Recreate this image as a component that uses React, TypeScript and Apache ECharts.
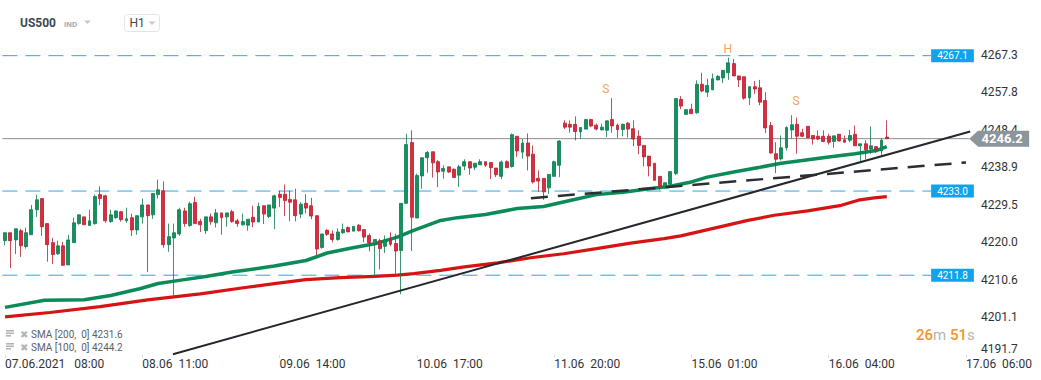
import React, { useEffect, useRef } from "react";
import * as echarts from "echarts";

// ---- Candles (H1), index 0 = 07.06.2021 08:00 ----
const openP = [
  4220.5, 4222.5, 4220.7, 4223.0, 4219.0, 4222.0, 4228.3, 4231.1, 4224.8, 4220.0,
  4217.2, 4219.2, 4214.4, 4220.0, 4224.8, 4226.5, 4224.3, 4224.8, 4232.1, 4231.8,
  4225.3, 4226.3, 4227.8, 4225.5, 4226.3, 4223.2, 4226.5, 4229.5, 4227.0, 4232.1,
  4233.1, 4219.5, 4221.2, 4222.2, 4228.0, 4224.3, 4230.1, 4225.3, 4223.0, 4226.5,
  4225.0, 4227.5, 4226.5, 4227.8, 4225.5, 4224.5, 4224.4, 4226.4, 4225.2, 4229.3,
  4226.6, 4228.7, 4232.2, 4232.2, 4230.9, 4230.8, 4227.2, 4229.9, 4229.3, 4226.8,
  4218.8, 4223.1, 4222.2, 4220.8, 4222.5, 4223.8, 4222.9, 4224.4, 4223.3, 4221.8,
  4219.6, 4220.5, 4219.1, 4220.7, 4219.8, 4218.0, 4229.9, 4245.2, 4226.2, 4236.8,
  4241.4, 4242.9, 4240.4, 4238.0, 4239.1, 4238.5, 4237.0, 4239.3, 4240.4, 4239.0,
  4239.6, 4240.4, 4240.2, 4238.8, 4236.7, 4240.4, 4239.2, 4246.8, 4242.8, 4245.1,
  4242.3, 4236.2, 4236.2, 4233.8, 4236.7, 4239.5, 4250.1, 4249.8, 4249.8, 4247.9,
  4248.6, 4251.0, 4249.6, 4248.4, 4248.3, 4251.0, 4249.6, 4248.5, 4250.1, 4248.7,
  4246.8, 4244.5, 4241.8, 4240.0, 4236.7, 4234.0, 4234.7, 4237.4, 4256.1, 4252.3,
  4253.6, 4252.7, 4259.9, 4257.9, 4258.5, 4261.0, 4261.5, 4262.8, 4265.1, 4262.0,
  4261.8, 4256.5, 4259.3, 4259.0, 4255.8, 4249.5, 4242.4, 4241.1, 4243.9, 4248.4,
  4249.8, 4247.7, 4249.3, 4247.0, 4246.8, 4246.8, 4246.8, 4245.5, 4247.3, 4245.9,
  4245.8, 4247.3, 4244.4, 4244.9, 4243.6, 4244.2, 4243.1, 4246.6,
];
const closeP = [
  4222.5, 4220.5, 4223.5, 4219.2, 4222.5, 4228.3, 4230.8, 4224.0, 4219.5, 4217.0,
  4219.2, 4214.3, 4220.7, 4225.0, 4227.0, 4224.5, 4225.5, 4231.6, 4231.1, 4225.5,
  4227.0, 4228.0, 4225.8, 4226.0, 4223.2, 4226.8, 4229.5, 4226.8, 4232.4, 4233.3,
  4219.5, 4221.5, 4222.5, 4228.3, 4224.8, 4229.8, 4224.8, 4224.5, 4226.5, 4225.3,
  4227.5, 4226.3, 4227.5, 4225.3, 4224.8, 4225.3, 4225.9, 4225.2, 4229.1, 4227.2,
  4229.5, 4231.8, 4231.4, 4230.6, 4230.2, 4226.8, 4229.7, 4228.7, 4226.7, 4218.4,
  4222.2, 4222.1, 4220.8, 4222.7, 4223.3, 4222.7, 4224.1, 4223.0, 4221.4, 4220.0,
  4220.8, 4218.5, 4220.7, 4219.6, 4217.9, 4229.9, 4244.7, 4226.4, 4236.9, 4241.4,
  4242.7, 4240.1, 4237.8, 4238.7, 4237.8, 4236.4, 4239.1, 4240.4, 4238.8, 4240.0,
  4240.4, 4239.5, 4238.9, 4237.1, 4240.3, 4238.9, 4247.2, 4243.1, 4245.1, 4241.8,
  4235.3, 4235.5, 4232.8, 4237.2, 4240.4, 4245.6, 4249.1, 4249.1, 4248.0, 4249.0,
  4251.0, 4249.4, 4248.6, 4249.1, 4250.7, 4249.4, 4248.5, 4249.8, 4248.6, 4246.1,
  4244.5, 4241.6, 4239.3, 4235.7, 4234.0, 4235.1, 4237.9, 4256.3, 4254.4, 4253.5,
  4252.5, 4259.9, 4258.2, 4259.6, 4261.3, 4261.9, 4263.4, 4265.3, 4262.0, 4261.0,
  4256.4, 4259.3, 4258.7, 4255.4, 4248.9, 4242.6, 4241.0, 4243.9, 4249.0, 4249.7,
  4246.8, 4246.8, 4246.4, 4246.1, 4246.1, 4245.5, 4245.3, 4246.9, 4245.6, 4245.3,
  4247.0, 4244.4, 4244.9, 4243.4, 4244.4, 4243.4, 4245.8, 4246.2,
];
const lowP = [
  4219.4, 4213.6, 4217.1, 4216.4, 4218.5, 4222.0, 4226.5, 4221.7, 4215.2, 4214.6,
  4216.9, 4214.2, 4214.4, 4220.0, 4224.5, 4224.5, 4224.3, 4224.5, 4229.5, 4225.0,
  4225.0, 4226.0, 4225.3, 4225.0, 4221.7, 4222.0, 4224.8, 4212.6, 4226.0, 4231.1,
  4218.7, 4217.7, 4206.2, 4221.7, 4224.0, 4224.0, 4224.8, 4222.7, 4222.2, 4224.5,
  4223.8, 4222.0, 4224.0, 4225.0, 4224.0, 4224.3, 4223.0, 4223.9, 4225.2, 4224.7,
  4226.2, 4223.4, 4229.0, 4226.7, 4225.4, 4225.4, 4226.2, 4227.4, 4225.9, 4216.9,
  4218.5, 4221.7, 4220.1, 4220.5, 4222.2, 4222.7, 4222.9, 4222.8, 4220.1, 4217.8,
  4211.6, 4213.3, 4217.4, 4219.1, 4211.7, 4207.0, 4229.9, 4217.9, 4226.2, 4233.6,
  4237.6, 4236.4, 4234.0, 4236.1, 4237.6, 4236.4, 4234.0, 4238.3, 4237.1, 4238.3,
  4239.6, 4239.1, 4236.0, 4236.5, 4236.0, 4238.9, 4238.9, 4241.6, 4241.2, 4238.2,
  4234.9, 4232.8, 4230.8, 4232.3, 4236.7, 4236.5, 4248.6, 4247.7, 4245.8, 4246.2,
  4248.5, 4249.1, 4248.3, 4248.3, 4246.6, 4247.7, 4246.4, 4246.8, 4246.5, 4244.3,
  4242.3, 4239.2, 4236.7, 4235.7, 4233.3, 4233.6, 4233.9, 4237.0, 4253.6, 4252.3,
  4252.5, 4252.5, 4257.9, 4256.7, 4258.4, 4260.9, 4260.2, 4261.0, 4262.0, 4259.2,
  4256.0, 4254.7, 4257.5, 4254.6, 4247.6, 4242.4, 4237.5, 4240.7, 4243.2, 4246.2,
  4242.4, 4246.6, 4246.4, 4244.7, 4245.8, 4245.3, 4244.7, 4243.9, 4245.5, 4245.2,
  4245.3, 4244.4, 4240.5, 4241.0, 4242.4, 4242.6, 4241.8, 4246.2,
];
const highP = [
  4222.5, 4222.5, 4223.5, 4223.5, 4223.8, 4229.5, 4232.1, 4231.1, 4224.8, 4221.2,
  4220.5, 4220.2, 4222.0, 4226.3, 4227.0, 4226.5, 4228.3, 4232.1, 4234.2, 4232.1,
  4228.3, 4228.0, 4228.0, 4228.8, 4227.3, 4226.8, 4231.1, 4229.5, 4232.4, 4235.9,
  4235.4, 4224.8, 4224.8, 4228.8, 4228.8, 4230.3, 4231.6, 4226.0, 4226.5, 4227.3,
  4228.5, 4227.5, 4227.5, 4228.3, 4226.0, 4227.3, 4225.9, 4229.3, 4230.1, 4229.3,
  4229.5, 4232.1, 4233.1, 4234.6, 4233.1, 4233.6, 4230.2, 4232.2, 4231.3, 4226.8,
  4222.2, 4223.4, 4223.1, 4223.6, 4224.8, 4224.1, 4224.1, 4224.7, 4223.3, 4222.3,
  4220.8, 4221.0, 4221.8, 4222.6, 4222.2, 4229.9, 4247.4, 4248.3, 4237.4, 4241.4,
  4243.1, 4242.9, 4240.8, 4239.5, 4239.1, 4238.7, 4239.6, 4241.0, 4240.4, 4240.0,
  4241.0, 4240.4, 4240.2, 4238.8, 4240.7, 4240.7, 4247.5, 4246.8, 4246.1, 4247.5,
  4244.5, 4238.2, 4236.2, 4237.2, 4240.7, 4245.8, 4250.8, 4250.8, 4251.8, 4249.0,
  4251.2, 4251.2, 4250.0, 4250.0, 4250.7, 4256.4, 4250.0, 4250.0, 4250.4, 4250.8,
  4248.3, 4244.5, 4241.8, 4240.0, 4236.7, 4235.1, 4237.9, 4256.3, 4256.9, 4253.5,
  4255.0, 4260.9, 4262.8, 4261.3, 4262.6, 4262.2, 4263.4, 4266.6, 4266.3, 4262.0,
  4261.8, 4259.3, 4260.7, 4261.0, 4257.9, 4250.4, 4245.3, 4247.0, 4249.3, 4252.1,
  4251.5, 4248.7, 4249.3, 4247.0, 4248.3, 4248.3, 4247.4, 4246.9, 4247.3, 4247.0,
  4248.4, 4249.5, 4244.9, 4245.8, 4249.3, 4244.2, 4246.4, 4250.8,
];

// ---- Moving averages (bar index, value) ----
const sma100X = [0, 7.5, 15, 20, 25.5, 29, 33, 38, 43, 51, 57, 61, 65.4, 70, 74.3, 77.4, 82.5, 85.7, 91, 97, 102, 107, 112, 117, 122, 126, 130, 133, 138, 143, 147, 151, 156, 161, 165, 167];
const sma100Y = [4203.7, 4205.5, 4205.6, 4206.7, 4208.4, 4209.7, 4210.5, 4211.5, 4212.6, 4214.1, 4215.5, 4217.4, 4218.6, 4219.7, 4221.4, 4223.1, 4225.6, 4226.3, 4227.1, 4228.6, 4229.1, 4230.6, 4232.1, 4232.7, 4233.6, 4234.2, 4235.3, 4236.5, 4237.8, 4239.0, 4240.0, 4240.7, 4241.6, 4242.4, 4243.2, 4244.2];
const sma200X = [0, 8.5, 18, 27, 37, 45.5, 51, 57, 63.5, 70, 74.3, 77.4, 82.5, 87, 93.3, 99.6, 105.8, 112, 118.5, 124.8, 128, 140.7, 145.7, 152, 158.4, 161.6, 164.6, 167];
const sma200Y = [4201.3, 4202.4, 4203.9, 4205.6, 4207.1, 4208.7, 4209.7, 4210.7, 4211.2, 4211.5, 4211.8, 4212.2, 4213.0, 4213.9, 4214.9, 4216.2, 4217.2, 4218.5, 4219.9, 4221.0, 4221.7, 4225.6, 4226.9, 4228.0, 4229.4, 4230.7, 4231.3, 4231.6];

// ---- Drawn trend lines (bar index, price) ----
const trendSolidX = [31.8, 182.8];
const trendSolidY = [4191.9, 4248.0];
const trendDashX = [99.6, 182.0];
const trendDashY = [4231.2, 4240.2];

// ---- Horizontal levels ----
const levelValues = [4267.1, 4233.0, 4211.8];
const levelEndX = 175.4;
const lastPrice = 4246.2;
const lastPriceEndX = 182.6;

// ---- Pattern annotations ----
const annoNames = ["H", "S", "S"];
const annoX = [136.9, 113.8, 149.8];
const annoY = [4268.9, 4258.6, 4255.8];

// ---- Axes ----
const barCount = 184;
const xTickIdx = [0, 26, 52, 78, 104, 130, 156, 182];
const xTickLabels = [
  "07.06.2021   08:00",
  "08.06  11:00",
  "09.06  14:00",
  "10.06  17:00",
  "11.06  20:00",
  "15.06  01:00",
  "16.06  04:00",
  "17.06  06:00",
];
const yTickLabels = ["4191.7", "4201.1", "4210.6", "4220.0", "4229.5", "4238.9", "4248.4", "4257.8", "4267.3"];
const yTickStep = 9.45;
const yMin = 4191.7;
const yMax = 4271.05;

const legendLines = ["SMA [200,  0] 4231.6", "SMA [100,  0] 4244.2"];

const off = { show: false };

export default function App() {
  const ref = useRef<HTMLDivElement>(null);
  useEffect(() => {
    if (!ref.current) return;
    const chart = echarts.init(ref.current, null, { renderer: "svg" });
    const categories = Array.from({ length: barCount }, (_, i) => {
      const k = xTickIdx.indexOf(i);
      return k >= 0 ? xTickLabels[k] : String(i);
    });
    const tickSet = new Set(xTickIdx);
    const candles = openP.map((o, i) => [o, closeP[i], lowP[i], highP[i]]);
    const font = "Roboto";

    const levelSeries = levelValues.map((v) => ({
      type: "line",
      xAxisIndex: 1,
      yAxisIndex: 0,
      data: [[-0.5, v], [levelEndX, v]],
      showSymbol: false,
      silent: true,
      z: 1,
      lineStyle: { color: "#2aa6e6", width: 1, type: [15, 8] },
      endLabel: {
        show: true,
        formatter: v.toFixed(1),
        distance: 0,
        color: "#ffffff",
        backgroundColor: "#0ea3ec",
        fontSize: 10,
        fontFamily: font,
        lineHeight: 12,
        padding: [1, 6, 0, 6],
      },
    }));

    const labelFor = (v: number) => {
      const k = v / yTickStep;
      const r = Math.round(k);
      if (Math.abs(k - r) > 0.02 || r < 0 || r >= yTickLabels.length) return "";
      return r === 0 ? "{low|" + yTickLabels[0] + "}" : yTickLabels[r];
    };

    const option: any = {
      animation: false,
      backgroundColor: "#ffffff",
      grid: { left: 2.4, right: 67.1, top: 40, bottom: 25, containLabel: false, show: false },
      xAxis: [
        {
          type: "category",
          data: categories,
          boundaryGap: true,
          axisLine: off,
          splitLine: off,
          splitArea: off,
          axisTick: {
            show: true,
            alignWithLabel: true,
            interval: (i: number) => tickSet.has(i),
            length: 3,
            lineStyle: { color: "#dddddd" },
          },
          axisLabel: {
            interval: (i: number) => tickSet.has(i),
            align: "left",
            color: "#333333",
            fontSize: 12,
            fontFamily: font,
            margin: 3,
          },
        },
        { type: "value", min: -0.5, max: barCount - 0.5, show: false, splitLine: off, axisTick: off, axisLine: off, axisLabel: off },
      ],
      yAxis: [
        {
          type: "value",
          position: "right",
          min: yMin,
          max: yMax,
          show: false,
          splitLine: off,
          minorSplitLine: off,
          splitArea: off,
          axisTick: off,
          minorTick: off,
          axisLine: off,
          axisLabel: off,
        },
        {
          type: "value",
          position: "right",
          min: 0,
          max: yMax - yMin,
          interval: yTickStep,
          splitLine: off,
          minorSplitLine: off,
          splitArea: off,
          axisLine: off,
          axisTick: off,
          minorTick: off,
          axisLabel: {
            margin: 7,
            color: "#333333",
            fontSize: 12,
            fontFamily: font,
            showMinLabel: true,
            showMaxLabel: false,
            formatter: labelFor,
            rich: { low: { padding: [0, 0, 13, 0], color: "#333333", fontSize: 12, fontFamily: font } },
          },
        },
      ],
      series: [
        ...levelSeries,
        {
          type: "line",
          xAxisIndex: 1,
          data: [[-0.5, lastPrice], [lastPriceEndX, lastPrice]],
          showSymbol: false,
          silent: true,
          z: 1,
          lineStyle: { color: "#8d8d8d", width: 1 },
          markPoint: {
            silent: true,
            data: [
              {
                coord: [lastPriceEndX, lastPrice],
                symbol: "path://M0,8L9,0L60,0L60,16L9,16Z",
                symbolSize: [60, 16],
                symbolOffset: [30, 0],
                symbolKeepAspect: false,
                itemStyle: { color: "#8b959b" },
                label: {
                  show: true,
                  position: "inside",
                  offset: [3, 0],
                  formatter: lastPrice.toFixed(1),
                  color: "#ffffff",
                  fontSize: 13,
                  fontWeight: "bold",
                  fontFamily: font,
                },
              },
            ],
          },
        },
        {
          type: "line",
          xAxisIndex: 1,
          data: sma200X.map((x, i) => [x, sma200Y[i]]),
          showSymbol: false,
          silent: true,
          z: 2,
          lineStyle: { color: "#d61414", width: 3.2 },
        },
        {
          type: "line",
          xAxisIndex: 1,
          data: sma100X.map((x, i) => [x, sma100Y[i]]),
          showSymbol: false,
          silent: true,
          z: 2,
          lineStyle: { color: "#0c8a58", width: 3.5 },
        },
        {
          type: "line",
          xAxisIndex: 1,
          data: trendSolidX.map((x, i) => [x, trendSolidY[i]]),
          showSymbol: false,
          silent: true,
          z: 4,
          lineStyle: { color: "#24272c", width: 2 },
        },
        {
          type: "line",
          xAxisIndex: 1,
          data: trendDashX.map((x, i) => [x, trendDashY[i]]),
          showSymbol: false,
          silent: true,
          z: 4,
          lineStyle: { color: "#2b2e33", width: 2.5, type: [17, 10] },
        },
        {
          type: "candlestick",
          xAxisIndex: 0,
          yAxisIndex: 0,
          data: candles,
          barWidth: 3.4,
          z: 3,
          itemStyle: {
            color: "#12925e",
            color0: "#dc2b3e",
            borderColor: "#0b7a4c",
            borderColor0: "#b81e2f",
            borderWidth: 0.8,
          },
        },
        {
          type: "scatter",
          xAxisIndex: 1,
          data: annoNames.map((n, i) => ({ name: n, value: [annoX[i], annoY[i]] })),
          symbolSize: 1,
          itemStyle: { color: "rgba(0,0,0,0)" },
          silent: true,
          z: 5,
          label: {
            show: true,
            position: "inside",
            formatter: "{b}",
            color: "#f08a2c",
            fontSize: 12,
            fontFamily: font,
          },
        },
      ],
      graphic: [
        { type: "text", x: 20, y: 23, style: { text: "US500", fill: "#3d4852", fontSize: 12, fontWeight: "bold", fontFamily: font, verticalAlign: "middle" } },
        { type: "text", x: 64, y: 24, style: { text: "IND", fill: "#a3abb3", fontSize: 8, fontWeight: "bold", fontFamily: font, verticalAlign: "middle" } },
        { type: "polygon", shape: { points: [[84, 20.5], [91, 20.5], [87.5, 24]] }, style: { fill: "#c5cacf" } },
        { type: "rect", shape: { x: 124.5, y: 14.5, width: 35, height: 17, r: 3 }, style: { fill: "#ffffff", stroke: "#e2e5e8", lineWidth: 1 } },
        { type: "text", x: 129.5, y: 23, style: { text: "H1", fill: "#3d4852", fontSize: 12, fontFamily: font, verticalAlign: "middle" } },
        { type: "polygon", shape: { points: [[148.5, 21.5], [155.5, 21.5], [152, 25]] }, style: { fill: "#c5cacf" } },
        ...legendLines.flatMap((t, k) => {
          const cy = 334 + k * 13;
          return [
            { type: "rect", shape: { x: 6, y: cy - 4, width: 8, height: 1.6 }, style: { fill: "#b0b6bc" } },
            { type: "rect", shape: { x: 6, y: cy - 1.5, width: 8, height: 1.6 }, style: { fill: "#b0b6bc" } },
            { type: "rect", shape: { x: 6, y: cy + 1, width: 5, height: 1.6 }, style: { fill: "#b0b6bc" } },
            { type: "text", x: 20, y: cy, style: { text: "✖", fill: "#b0b6bc", fontSize: 10, fontFamily: "DejaVu Sans", verticalAlign: "middle" } },
            { type: "text", x: 31, y: cy + 0.5, style: { text: t, fill: "#5a6168", fontSize: 10, fontFamily: font, verticalAlign: "middle" } },
          ];
        }),
        {
          type: "text",
          x: 916,
          y: 335,
          style: {
            text: "{o|26}{g|m} {o|51}{g|s}",
            verticalAlign: "middle",
            fontSize: 15,
            fontFamily: font,
            rich: {
              o: { fill: "#f7931e", fontSize: 15, fontFamily: font, fontWeight: 500 },
              g: { fill: "#b5b5b5", fontSize: 15, fontFamily: font },
            },
          },
        },
      ],
    };
    chart.setOption(option);
    return () => chart.dispose();
  }, []);
  return (
    <div
      ref={ref}
      style={{ position: "fixed", left: 0, top: 0, width: 1041, height: 380, background: "#ffffff" }}
    />
  );
}
